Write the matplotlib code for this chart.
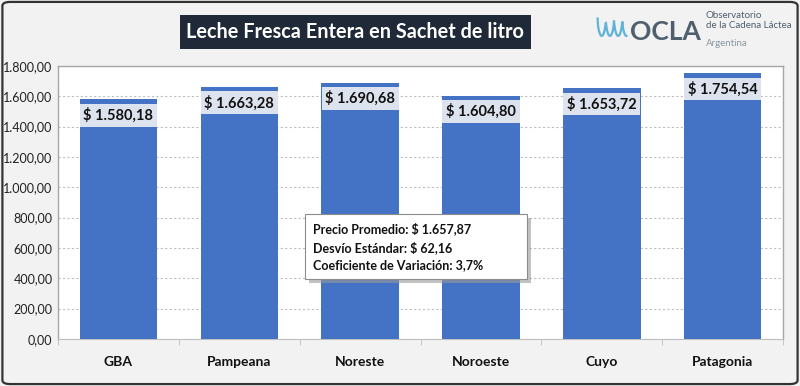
import numpy as np
import matplotlib.pyplot as plt
from matplotlib.patches import Rectangle, FancyBboxPatch

# data
regiones = ["GBA", "Pampeana", "Noreste", "Noroeste", "Cuyo", "Patagonia"]
precios = [1580.18, 1663.28, 1690.68, 1604.80, 1653.72, 1754.54]
etiquetas = ["$ 1.580,18", "$ 1.663,28", "$ 1.690,68", "$ 1.604,80", "$ 1.653,72", "$ 1.754,54"]
y_ticks = [0, 200, 400, 600, 800, 1000, 1200, 1400, 1600, 1800]
y_labels = ["0,00", "200,00", "400,00", "600,00", "800,00", "1.000,00",
            "1.200,00", "1.400,00", "1.600,00", "1.800,00"]
resumen = ["Precio Promedio: $ 1.657,87",
           "Desvío Estándar: $ 62,16",
           "Coeficiente de Variación: 3,7%"]

plt.rcParams['font.family'] = ['Lato', 'DejaVu Sans']

fig = plt.figure(figsize=(8, 3.86), dpi=100, facecolor="#f2f2f2")
ax = fig.add_axes([0.0725, 0.122, 0.9065, 0.707])
ax.set_facecolor("white")

x = np.arange(len(regiones))
ax.bar(x, precios, width=0.64, color="#4472c4", zorder=3)

for xi, val, lab in zip(x, precios, etiquetas):
    ax.annotate(lab, (xi, val), xytext=(0, -11.5), textcoords="offset points",
                ha="center", va="center", fontsize=10.5, fontweight="bold",
                color="#111111", zorder=5,
                bbox=dict(boxstyle="square,pad=0.25", fc="#dde3ee", ec="none"))

ax.set_xlim(-0.5, len(regiones) - 0.5)
ax.set_ylim(0, 1800)
ax.set_yticks(y_ticks)
ax.set_yticklabels(y_labels, fontsize=9, color="#222222")
ax.set_xticks(x)
ax.set_xticklabels(regiones, fontsize=10, fontweight="bold", color="#111111")
ax.tick_params(axis="x", length=0, pad=12)
ax.tick_params(axis="y", length=0, pad=4)
ax.set_xticks(np.arange(-0.5, len(regiones)), minor=True)
ax.tick_params(axis="x", which="minor", length=4, color="#bfbfbf")
ax.yaxis.grid(True, linestyle=(0, (2, 2)), color="#bfbfbf", linewidth=0.8, zorder=0)

for s in ["left", "top", "right"]:
    ax.spines[s].set_color("#a6a6a6")
    ax.spines[s].set_linewidth(1.0)
ax.spines["bottom"].set_color("#bfbfbf")

# stats box with a soft shadow
bx0, bx1, by0, by1 = 1.545, 3.38, 395, 824
ax.add_patch(Rectangle((bx0 + 0.03, by0 - 25), bx1 - bx0, by1 - by0,
                       fc="#9a9a9a", ec="none", alpha=0.6, zorder=6))
ax.add_patch(Rectangle((bx0, by0), bx1 - bx0, by1 - by0,
                       fc="white", ec="#8c8c8c", lw=0.8, zorder=7))
ax.text(bx0 + 0.065, (by0 + by1) / 2, "\n".join(resumen), fontsize=9,
        fontweight="bold", ha="left", va="center", linespacing=1.55,
        color="#111111", zorder=8)

# title
fig.text(0.444, 0.917, "Leche Fresca Entera en Sachet de litro", fontsize=14.3,
         fontweight="bold", color="white", ha="center", va="center",
         bbox=dict(boxstyle="square,pad=0.33", fc="#1f2937", ec="none"))

# logo
wx = np.linspace(0.747, 0.783, 80)
wy = 0.952 - 0.045 * np.abs(np.sin((wx - 0.747) / 0.036 * 3.5 * np.pi)) ** 0.5
fig.lines.append(plt.Line2D(wx, wy, transform=fig.transFigure, color="#5fb3d9", lw=1.6))
fig.text(0.787, 0.918, "OCLA", fontsize=19, fontweight="bold", color="#4f5f6e",
         ha="left", va="center")
fig.text(0.882, 0.946, "Observatorio\nde la Cadena Láctea", fontsize=7,
         color="#4f5f6e", ha="left", va="center", linespacing=1.1)
fig.text(0.882, 0.887, "Argentina", fontsize=7, color="#8a97a3",
         ha="left", va="center")

# outer frame
fig.patches.append(FancyBboxPatch((0.003, 0.005), 0.994, 0.99,
                                  boxstyle="round,pad=0,rounding_size=0.01",
                                  transform=fig.transFigure, fill=False,
                                  ec="#333333", lw=1.6))

fig.savefig("out.png", dpi=100, facecolor=fig.get_facecolor())
